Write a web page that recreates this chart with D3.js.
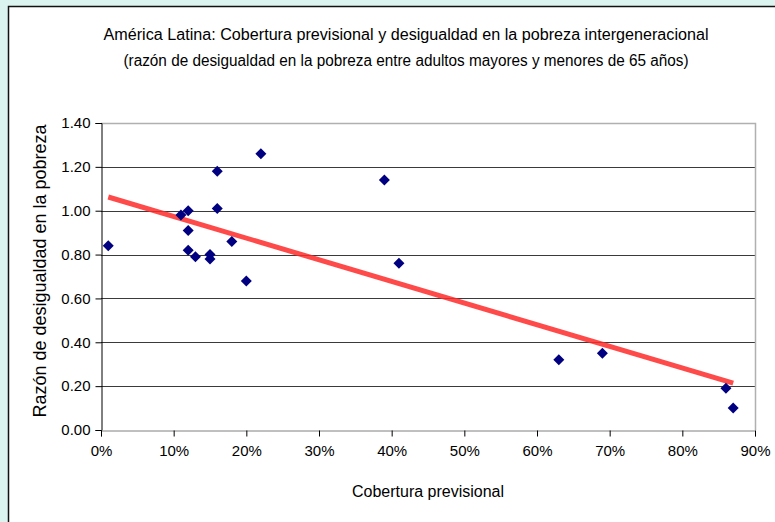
<!DOCTYPE html>
<html>
<head>
<meta charset="utf-8">
<script src="https://cdn.jsdelivr.net/npm/d3@7"></script>
<style>
  html, body { margin: 0; padding: 0; background: #DCF4EF; }
  svg { display: block; font-family: "Liberation Sans", Arial, sans-serif; }
</style>
</head>
<body>
<svg id="chart" width="775" height="522"></svg>
<script>
// Cobertura previsional (%) por país
const coverage = [1, 11, 12, 12, 12, 13, 15, 15, 16, 16, 18, 20, 22, 39, 41, 63, 69, 86, 87];
// Razón de desigualdad en la pobreza (adultos mayores / menores de 65)
const povertyRatio = [0.84, 0.98, 1.00, 0.91, 0.82, 0.79, 0.80, 0.78, 1.01, 1.18, 0.86, 0.68, 1.26, 1.14, 0.76, 0.32, 0.35, 0.19, 0.10];
const xTicks = [0, 10, 20, 30, 40, 50, 60, 70, 80, 90];
const yTicks = [0, 0.2, 0.4, 0.6, 0.8, 1.0, 1.2, 1.4];
const titleLines = [
  "América Latina: Cobertura previsional y desigualdad en la pobreza intergeneracional",
  "(razón de desigualdad en la pobreza entre adultos mayores y menores de 65 años)"
];
const titleWidths = [605, 565];

const svg = d3.select("#chart");

// chart panel
svg.append("rect")
  .attr("x", 8.5).attr("y", 6.5)
  .attr("width", 800).attr("height", 600)
  .attr("fill", "#ffffff")
  .attr("stroke", "#111").attr("stroke-width", 1.5);

const plot = { left: 101, right: 755, top: 123, bottom: 430 };

const x = d3.scaleLinear().domain([0, 90]).range([plot.left, plot.right]);
const y = d3.scaleLinear().domain([0, 1.4]).range([plot.bottom, plot.top]);

// gridlines
svg.append("g")
  .selectAll("line")
  .data(yTicks.filter(d => d > 0 && d < 1.4))
  .join("line")
  .attr("x1", plot.left).attr("x2", plot.right)
  .attr("y1", d => Math.round(y(d)) + 0.5).attr("y2", d => Math.round(y(d)) + 0.5)
  .attr("stroke", "#3a3a3a").attr("stroke-width", 1);

// plot frame (top and right)
svg.append("path")
  .attr("d", `M${plot.left},${plot.top + 0.5}H${plot.right + 0.5}V${plot.bottom}`)
  .attr("fill", "none").attr("stroke", "#b0b0b0").attr("stroke-width", 1.5);

// axes
const yAxis = d3.axisLeft(y).tickValues(yTicks).tickFormat(d3.format(".2f")).tickSizeOuter(0).tickSize(6).tickPadding(5);
const xAxis = d3.axisBottom(x).tickValues(xTicks).tickFormat(d => d + "%").tickSizeOuter(0).tickSize(6).tickPadding(9);

const gy = svg.append("g").attr("transform", `translate(${plot.left + 0.5},0)`).call(yAxis);
const gx = svg.append("g").attr("transform", `translate(0,${plot.bottom + 0.5})`).call(xAxis);

[gx, gy].forEach(g => {
  g.selectAll(".domain").attr("stroke", "#000");
  g.selectAll(".tick line").attr("stroke", "#000");
  g.selectAll(".tick text").attr("fill", "#000").attr("font-size", 15)
    .attr("font-family", "'Liberation Sans', Arial, sans-serif");
});
gx.select(".domain").attr("stroke", "#808080");

// least-squares trend line
const n = coverage.length;
const mx = d3.mean(coverage), my = d3.mean(povertyRatio);
let sxy = 0, sxx = 0;
for (let i = 0; i < n; i++) {
  sxy += (coverage[i] - mx) * (povertyRatio[i] - my);
  sxx += (coverage[i] - mx) ** 2;
}
const slope = sxy / sxx, intercept = my - slope * mx;
const xr = d3.extent(coverage);
svg.append("line")
  .attr("x1", x(xr[0])).attr("y1", y(intercept + slope * xr[0]))
  .attr("x2", x(xr[1])).attr("y2", y(intercept + slope * xr[1]))
  .attr("stroke", "#ff2a2a").attr("stroke-width", 5).attr("stroke-opacity", 0.85);

// points
const diamond = r => `M0,${-r}L${r},0L0,${r}L${-r},0Z`;
svg.append("g")
  .selectAll("path")
  .data(coverage.map((c, i) => [c, povertyRatio[i]]))
  .join("path")
  .attr("transform", d => `translate(${x(d[0])},${y(d[1])})`)
  .attr("d", diamond(5.5))
  .attr("fill", "#000080");

// titles
svg.append("g")
  .selectAll("text")
  .data(titleLines)
  .join("text")
  .attr("x", 406).attr("y", (d, i) => 40 + i * 26)
  .attr("text-anchor", "middle")
  .attr("font-size", 16)
  .attr("textLength", (d, i) => titleWidths[i])
  .attr("lengthAdjust", "spacingAndGlyphs")
  .attr("fill", "#000")
  .text(d => d);

svg.append("text")
  .attr("x", (plot.left + plot.right) / 2).attr("y", 497)
  .attr("text-anchor", "middle").attr("font-size", 16).attr("fill", "#000")
  .text("Cobertura previsional");

svg.append("text")
  .attr("transform", `translate(46,271) rotate(-90)`)
  .attr("text-anchor", "middle").attr("font-size", 18).attr("fill", "#000")
  .text("Razón de desigualdad en la pobreza");
</script>
</body>
</html>
